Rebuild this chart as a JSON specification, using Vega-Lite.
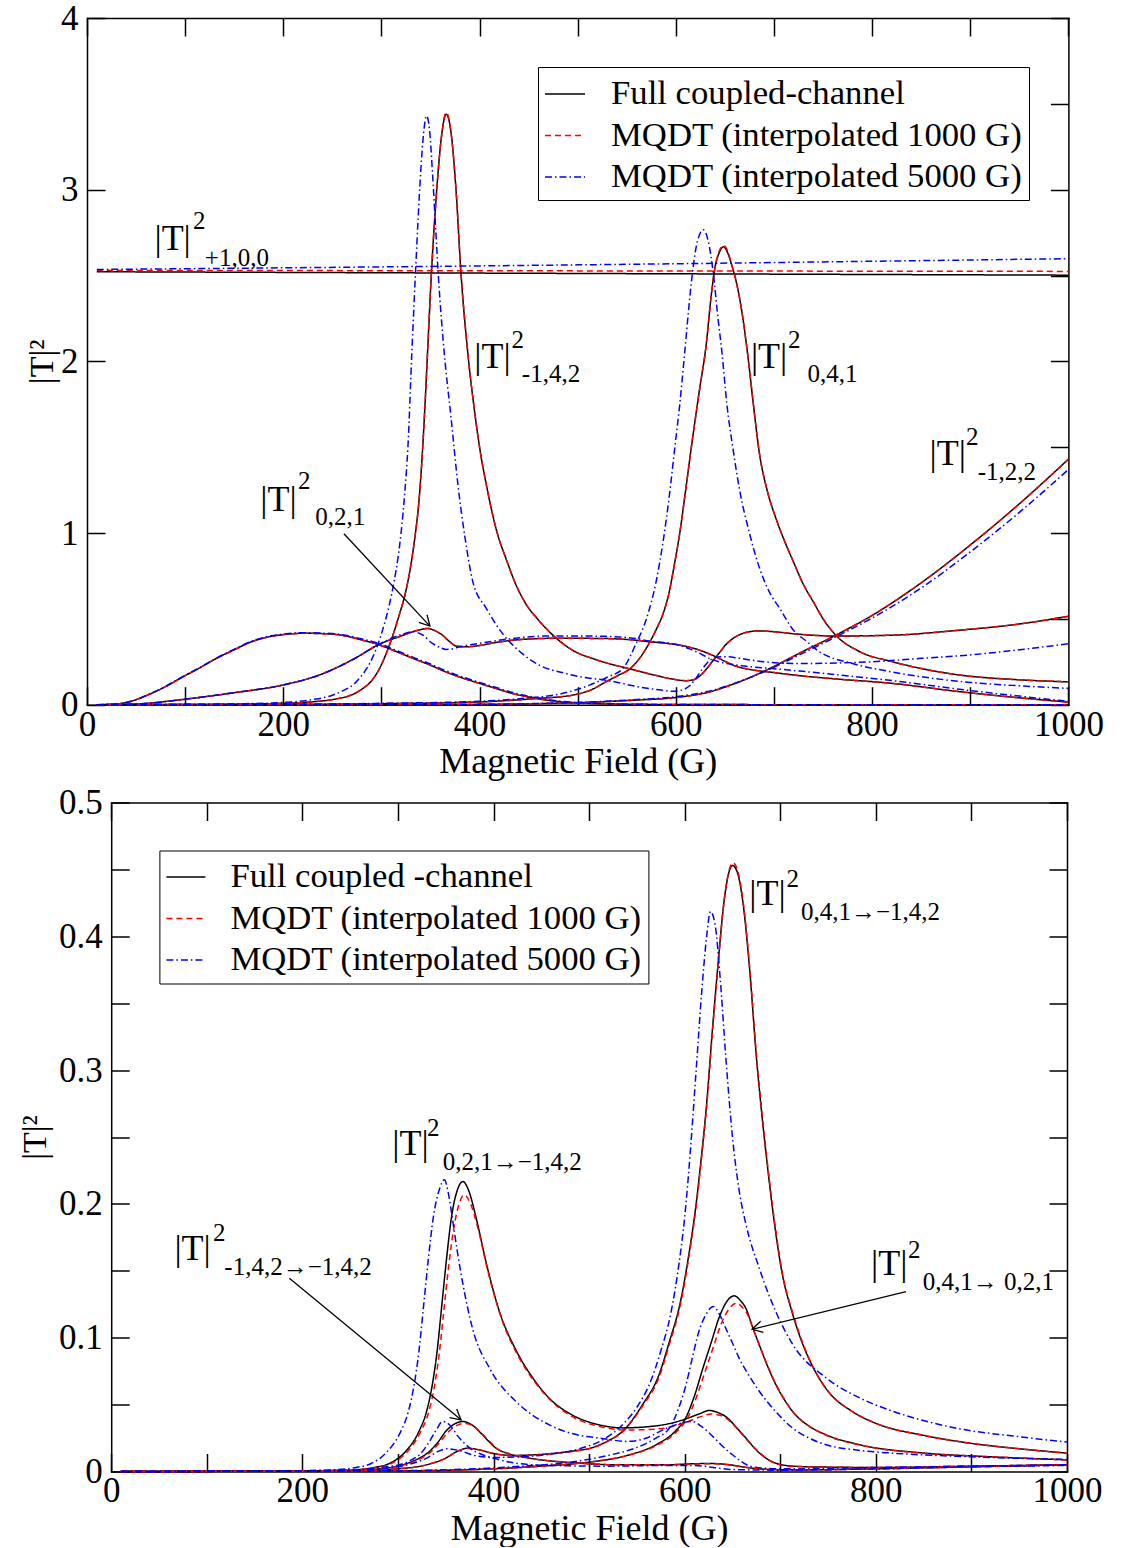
{
"$schema":"https://vega.github.io/schema/vega-lite/v6.json",
"background":"white",
"padding":{"left":18,"top":1,"right":0,"bottom":0},
"config":{"view":{"stroke":null},"font":"Liberation Serif",
"axis":{"labelFont":"Liberation Serif","titleFont":"Liberation Serif","labelColor":"black","titleColor":"black","titleFontWeight":"normal","domainColor":"black","domainWidth":1.5,"tickColor":"black","tickWidth":1.5,"tickSize":-18,"grid":false,"labelFlush":false,"labelOverlap":false,"labelFontSize":35,"titleFontSize":36,"domainCap":"square"}},
"datasets":{
"top":[
{"c":"t1","m":"F","G":10,"v":2.522},{"c":"t1","m":"F","G":500,"v":2.512},{"c":"t1","m":"F","G":1000,"v":2.502},
{"c":"t2","m":"F","G":10,"v":0},{"c":"t2","m":"F","G":100,"v":0.001},{"c":"t2","m":"F","G":150,"v":0.003},{"c":"t2","m":"F","G":200,"v":0.008},{"c":"t2","m":"F","G":230,"v":0.017},{"c":"t2","m":"F","G":255,"v":0.035},{"c":"t2","m":"F","G":270,"v":0.058},{"c":"t2","m":"F","G":280,"v":0.09},{"c":"t2","m":"F","G":290,"v":0.14},{"c":"t2","m":"F","G":298,"v":0.21},{"c":"t2","m":"F","G":305,"v":0.3},{"c":"t2","m":"F","G":312,"v":0.41},{"c":"t2","m":"F","G":318,"v":0.52},{"c":"t2","m":"F","G":324,"v":0.64},{"c":"t2","m":"F","G":329,"v":0.78},{"c":"t2","m":"F","G":334,"v":0.97},{"c":"t2","m":"F","G":338,"v":1.17},{"c":"t2","m":"F","G":341,"v":1.4},{"c":"t2","m":"F","G":344,"v":1.7},{"c":"t2","m":"F","G":347,"v":2.05},{"c":"t2","m":"F","G":351,"v":2.52},{"c":"t2","m":"F","G":356,"v":2.97},{"c":"t2","m":"F","G":361,"v":3.3},{"c":"t2","m":"F","G":366,"v":3.44},{"c":"t2","m":"F","G":371,"v":3.33},{"c":"t2","m":"F","G":376,"v":3.0},{"c":"t2","m":"F","G":381,"v":2.52},{"c":"t2","m":"F","G":388,"v":2.05},{"c":"t2","m":"F","G":394,"v":1.75},{"c":"t2","m":"F","G":400,"v":1.5},{"c":"t2","m":"F","G":408,"v":1.25},{"c":"t2","m":"F","G":418,"v":1.0},{"c":"t2","m":"F","G":427,"v":0.85},{"c":"t2","m":"F","G":437,"v":0.7},{"c":"t2","m":"F","G":448,"v":0.58},{"c":"t2","m":"F","G":459,"v":0.5},{"c":"t2","m":"F","G":472,"v":0.42},{"c":"t2","m":"F","G":494,"v":0.32},{"c":"t2","m":"F","G":520,"v":0.26},{"c":"t2","m":"F","G":552,"v":0.21},{"c":"t2","m":"F","G":580,"v":0.17},{"c":"t2","m":"F","G":596,"v":0.15},{"c":"t2","m":"F","G":610,"v":0.14},{"c":"t2","m":"F","G":618,"v":0.145},{"c":"t2","m":"F","G":624,"v":0.165},{"c":"t2","m":"F","G":630,"v":0.2},{"c":"t2","m":"F","G":637,"v":0.25},{"c":"t2","m":"F","G":644,"v":0.3},{"c":"t2","m":"F","G":651,"v":0.35},{"c":"t2","m":"F","G":658,"v":0.385},{"c":"t2","m":"F","G":665,"v":0.408},{"c":"t2","m":"F","G":675,"v":0.425},{"c":"t2","m":"F","G":685,"v":0.43},{"c":"t2","m":"F","G":700,"v":0.425},{"c":"t2","m":"F","G":726,"v":0.41},{"c":"t2","m":"F","G":763,"v":0.4},{"c":"t2","m":"F","G":821,"v":0.405},{"c":"t2","m":"F","G":889,"v":0.434},{"c":"t2","m":"F","G":950,"v":0.47},{"c":"t2","m":"F","G":1000,"v":0.515},
{"c":"t3","m":"F","G":10,"v":0},{"c":"t3","m":"F","G":200,"v":0.002},{"c":"t3","m":"F","G":300,"v":0.006},{"c":"t3","m":"F","G":400,"v":0.016},{"c":"t3","m":"F","G":430,"v":0.025},{"c":"t3","m":"F","G":461,"v":0.037},{"c":"t3","m":"F","G":495,"v":0.056},{"c":"t3","m":"F","G":515,"v":0.09},{"c":"t3","m":"F","G":529,"v":0.134},{"c":"t3","m":"F","G":541,"v":0.17},{"c":"t3","m":"F","G":553,"v":0.208},{"c":"t3","m":"F","G":563,"v":0.27},{"c":"t3","m":"F","G":573,"v":0.36},{"c":"t3","m":"F","G":581,"v":0.45},{"c":"t3","m":"F","G":587,"v":0.53},{"c":"t3","m":"F","G":593,"v":0.65},{"c":"t3","m":"F","G":598,"v":0.8},{"c":"t3","m":"F","G":604,"v":1.0},{"c":"t3","m":"F","G":610,"v":1.25},{"c":"t3","m":"F","G":617,"v":1.55},{"c":"t3","m":"F","G":624,"v":1.83},{"c":"t3","m":"F","G":631,"v":2.1},{"c":"t3","m":"F","G":636,"v":2.38},{"c":"t3","m":"F","G":640,"v":2.55},{"c":"t3","m":"F","G":644,"v":2.63},{"c":"t3","m":"F","G":648.5,"v":2.667},{"c":"t3","m":"F","G":653,"v":2.63},{"c":"t3","m":"F","G":657,"v":2.56},{"c":"t3","m":"F","G":660,"v":2.5},{"c":"t3","m":"F","G":667,"v":2.3},{"c":"t3","m":"F","G":673,"v":2.05},{"c":"t3","m":"F","G":679,"v":1.75},{"c":"t3","m":"F","G":685,"v":1.47},{"c":"t3","m":"F","G":693,"v":1.25},{"c":"t3","m":"F","G":702,"v":1.085},{"c":"t3","m":"F","G":711,"v":0.95},{"c":"t3","m":"F","G":720,"v":0.83},{"c":"t3","m":"F","G":730,"v":0.7},{"c":"t3","m":"F","G":740,"v":0.6},{"c":"t3","m":"F","G":750,"v":0.5},{"c":"t3","m":"F","G":763,"v":0.405},{"c":"t3","m":"F","G":787,"v":0.31},{"c":"t3","m":"F","G":821,"v":0.25},{"c":"t3","m":"F","G":855,"v":0.205},{"c":"t3","m":"F","G":889,"v":0.173},{"c":"t3","m":"F","G":950,"v":0.145},{"c":"t3","m":"F","G":1000,"v":0.133},
{"c":"t4","m":"F","G":10,"v":0},{"c":"t4","m":"F","G":300,"v":0},{"c":"t4","m":"F","G":400,"v":0.002},{"c":"t4","m":"F","G":450,"v":0.005},{"c":"t4","m":"F","G":500,"v":0.012},{"c":"t4","m":"F","G":529,"v":0.018},{"c":"t4","m":"F","G":560,"v":0.027},{"c":"t4","m":"F","G":597,"v":0.04},{"c":"t4","m":"F","G":631,"v":0.07},{"c":"t4","m":"F","G":665,"v":0.134},{"c":"t4","m":"F","G":699,"v":0.22},{"c":"t4","m":"F","G":726,"v":0.3},{"c":"t4","m":"F","G":763,"v":0.405},{"c":"t4","m":"F","G":800,"v":0.52},{"c":"t4","m":"F","G":850,"v":0.71},{"c":"t4","m":"F","G":900,"v":0.93},{"c":"t4","m":"F","G":950,"v":1.17},{"c":"t4","m":"F","G":1000,"v":1.43},
{"c":"t5","m":"F","G":10,"v":0},{"c":"t5","m":"F","G":27,"v":0.003},{"c":"t5","m":"F","G":45,"v":0.02},{"c":"t5","m":"F","G":62,"v":0.057},{"c":"t5","m":"F","G":80,"v":0.105},{"c":"t5","m":"F","G":97,"v":0.16},{"c":"t5","m":"F","G":115,"v":0.215},{"c":"t5","m":"F","G":132,"v":0.27},{"c":"t5","m":"F","G":150,"v":0.32},{"c":"t5","m":"F","G":167,"v":0.365},{"c":"t5","m":"F","G":185,"v":0.395},{"c":"t5","m":"F","G":203,"v":0.41},{"c":"t5","m":"F","G":220,"v":0.416},{"c":"t5","m":"F","G":240,"v":0.414},{"c":"t5","m":"F","G":259,"v":0.405},{"c":"t5","m":"F","G":278,"v":0.38},{"c":"t5","m":"F","G":297,"v":0.35},{"c":"t5","m":"F","G":315,"v":0.31},{"c":"t5","m":"F","G":332,"v":0.27},{"c":"t5","m":"F","G":350,"v":0.23},{"c":"t5","m":"F","G":366,"v":0.19},{"c":"t5","m":"F","G":383,"v":0.155},{"c":"t5","m":"F","G":400,"v":0.124},{"c":"t5","m":"F","G":417,"v":0.094},{"c":"t5","m":"F","G":433,"v":0.066},{"c":"t5","m":"F","G":450,"v":0.045},{"c":"t5","m":"F","G":468,"v":0.027},{"c":"t5","m":"F","G":485,"v":0.016},{"c":"t5","m":"F","G":502,"v":0.01},{"c":"t5","m":"F","G":530,"v":0.005},{"c":"t5","m":"F","G":570,"v":0.002},{"c":"t5","m":"F","G":650,"v":0.0005},{"c":"t5","m":"F","G":1000,"v":0},
{"c":"t6","m":"F","G":10,"v":0},{"c":"t6","m":"F","G":50,"v":0.004},{"c":"t6","m":"F","G":97,"v":0.03},{"c":"t6","m":"F","G":150,"v":0.07},{"c":"t6","m":"F","G":200,"v":0.115},{"c":"t6","m":"F","G":240,"v":0.18},{"c":"t6","m":"F","G":273,"v":0.27},{"c":"t6","m":"F","G":297,"v":0.35},{"c":"t6","m":"F","G":320,"v":0.4},{"c":"t6","m":"F","G":335,"v":0.43},{"c":"t6","m":"F","G":347,"v":0.444},{"c":"t6","m":"F","G":355,"v":0.43},{"c":"t6","m":"F","G":362,"v":0.406},{"c":"t6","m":"F","G":370,"v":0.365},{"c":"t6","m":"F","G":376,"v":0.342},{"c":"t6","m":"F","G":386,"v":0.337},{"c":"t6","m":"F","G":400,"v":0.345},{"c":"t6","m":"F","G":417,"v":0.363},{"c":"t6","m":"F","G":451,"v":0.383},{"c":"t6","m":"F","G":480,"v":0.387},{"c":"t6","m":"F","G":520,"v":0.386},{"c":"t6","m":"F","G":550,"v":0.38},{"c":"t6","m":"F","G":573,"v":0.367},{"c":"t6","m":"F","G":603,"v":0.348},{"c":"t6","m":"F","G":614,"v":0.335},{"c":"t6","m":"F","G":624,"v":0.318},{"c":"t6","m":"F","G":637,"v":0.289},{"c":"t6","m":"F","G":651,"v":0.25},{"c":"t6","m":"F","G":661,"v":0.225},{"c":"t6","m":"F","G":671,"v":0.21},{"c":"t6","m":"F","G":685,"v":0.197},{"c":"t6","m":"F","G":699,"v":0.188},{"c":"t6","m":"F","G":726,"v":0.169},{"c":"t6","m":"F","G":763,"v":0.15},{"c":"t6","m":"F","G":821,"v":0.124},{"c":"t6","m":"F","G":889,"v":0.076},{"c":"t6","m":"F","G":950,"v":0.04},{"c":"t6","m":"F","G":1000,"v":0.015},
{"c":"t1","m":"A","G":10,"v":2.53},{"c":"t1","m":"A","G":500,"v":2.527},{"c":"t1","m":"A","G":1000,"v":2.524},
{"c":"t2","m":"A","G":10,"v":0},{"c":"t2","m":"A","G":100,"v":0.001},{"c":"t2","m":"A","G":150,"v":0.003},{"c":"t2","m":"A","G":200,"v":0.008},{"c":"t2","m":"A","G":230,"v":0.017},{"c":"t2","m":"A","G":255,"v":0.035},{"c":"t2","m":"A","G":270,"v":0.058},{"c":"t2","m":"A","G":280,"v":0.09},{"c":"t2","m":"A","G":290,"v":0.14},{"c":"t2","m":"A","G":298,"v":0.21},{"c":"t2","m":"A","G":305,"v":0.3},{"c":"t2","m":"A","G":312,"v":0.41},{"c":"t2","m":"A","G":318,"v":0.52},{"c":"t2","m":"A","G":324,"v":0.64},{"c":"t2","m":"A","G":329,"v":0.78},{"c":"t2","m":"A","G":334,"v":0.97},{"c":"t2","m":"A","G":338,"v":1.17},{"c":"t2","m":"A","G":341,"v":1.4},{"c":"t2","m":"A","G":344,"v":1.7},{"c":"t2","m":"A","G":347,"v":2.05},{"c":"t2","m":"A","G":351,"v":2.52},{"c":"t2","m":"A","G":356,"v":2.97},{"c":"t2","m":"A","G":361,"v":3.3},{"c":"t2","m":"A","G":366,"v":3.45},{"c":"t2","m":"A","G":371,"v":3.33},{"c":"t2","m":"A","G":376,"v":3.0},{"c":"t2","m":"A","G":381,"v":2.52},{"c":"t2","m":"A","G":388,"v":2.05},{"c":"t2","m":"A","G":394,"v":1.75},{"c":"t2","m":"A","G":400,"v":1.5},{"c":"t2","m":"A","G":408,"v":1.25},{"c":"t2","m":"A","G":418,"v":1.0},{"c":"t2","m":"A","G":427,"v":0.85},{"c":"t2","m":"A","G":437,"v":0.7},{"c":"t2","m":"A","G":448,"v":0.58},{"c":"t2","m":"A","G":459,"v":0.5},{"c":"t2","m":"A","G":472,"v":0.42},{"c":"t2","m":"A","G":494,"v":0.32},{"c":"t2","m":"A","G":520,"v":0.26},{"c":"t2","m":"A","G":552,"v":0.21},{"c":"t2","m":"A","G":580,"v":0.17},{"c":"t2","m":"A","G":596,"v":0.15},{"c":"t2","m":"A","G":610,"v":0.14},{"c":"t2","m":"A","G":618,"v":0.145},{"c":"t2","m":"A","G":624,"v":0.165},{"c":"t2","m":"A","G":630,"v":0.2},{"c":"t2","m":"A","G":637,"v":0.25},{"c":"t2","m":"A","G":644,"v":0.3},{"c":"t2","m":"A","G":651,"v":0.35},{"c":"t2","m":"A","G":658,"v":0.385},{"c":"t2","m":"A","G":665,"v":0.408},{"c":"t2","m":"A","G":675,"v":0.425},{"c":"t2","m":"A","G":685,"v":0.43},{"c":"t2","m":"A","G":700,"v":0.425},{"c":"t2","m":"A","G":726,"v":0.41},{"c":"t2","m":"A","G":763,"v":0.4},{"c":"t2","m":"A","G":821,"v":0.405},{"c":"t2","m":"A","G":889,"v":0.434},{"c":"t2","m":"A","G":950,"v":0.47},{"c":"t2","m":"A","G":1000,"v":0.515},
{"c":"t3","m":"A","G":10,"v":0},{"c":"t3","m":"A","G":200,"v":0.002},{"c":"t3","m":"A","G":300,"v":0.006},{"c":"t3","m":"A","G":400,"v":0.016},{"c":"t3","m":"A","G":430,"v":0.025},{"c":"t3","m":"A","G":461,"v":0.037},{"c":"t3","m":"A","G":495,"v":0.056},{"c":"t3","m":"A","G":515,"v":0.09},{"c":"t3","m":"A","G":529,"v":0.134},{"c":"t3","m":"A","G":541,"v":0.17},{"c":"t3","m":"A","G":553,"v":0.208},{"c":"t3","m":"A","G":563,"v":0.27},{"c":"t3","m":"A","G":573,"v":0.36},{"c":"t3","m":"A","G":581,"v":0.45},{"c":"t3","m":"A","G":587,"v":0.53},{"c":"t3","m":"A","G":593,"v":0.65},{"c":"t3","m":"A","G":598,"v":0.8},{"c":"t3","m":"A","G":604,"v":1.0},{"c":"t3","m":"A","G":610,"v":1.25},{"c":"t3","m":"A","G":617,"v":1.55},{"c":"t3","m":"A","G":624,"v":1.83},{"c":"t3","m":"A","G":631,"v":2.1},{"c":"t3","m":"A","G":636,"v":2.38},{"c":"t3","m":"A","G":640,"v":2.55},{"c":"t3","m":"A","G":644,"v":2.64},{"c":"t3","m":"A","G":648.5,"v":2.675},{"c":"t3","m":"A","G":653,"v":2.64},{"c":"t3","m":"A","G":657,"v":2.56},{"c":"t3","m":"A","G":660,"v":2.5},{"c":"t3","m":"A","G":667,"v":2.3},{"c":"t3","m":"A","G":673,"v":2.05},{"c":"t3","m":"A","G":679,"v":1.75},{"c":"t3","m":"A","G":685,"v":1.47},{"c":"t3","m":"A","G":693,"v":1.25},{"c":"t3","m":"A","G":702,"v":1.085},{"c":"t3","m":"A","G":711,"v":0.95},{"c":"t3","m":"A","G":720,"v":0.83},{"c":"t3","m":"A","G":730,"v":0.7},{"c":"t3","m":"A","G":740,"v":0.6},{"c":"t3","m":"A","G":750,"v":0.5},{"c":"t3","m":"A","G":763,"v":0.405},{"c":"t3","m":"A","G":787,"v":0.31},{"c":"t3","m":"A","G":821,"v":0.25},{"c":"t3","m":"A","G":855,"v":0.205},{"c":"t3","m":"A","G":889,"v":0.173},{"c":"t3","m":"A","G":950,"v":0.145},{"c":"t3","m":"A","G":1000,"v":0.133},
{"c":"t4","m":"A","G":10,"v":0},{"c":"t4","m":"A","G":300,"v":0},{"c":"t4","m":"A","G":400,"v":0.002},{"c":"t4","m":"A","G":450,"v":0.005},{"c":"t4","m":"A","G":500,"v":0.012},{"c":"t4","m":"A","G":529,"v":0.018},{"c":"t4","m":"A","G":560,"v":0.027},{"c":"t4","m":"A","G":597,"v":0.04},{"c":"t4","m":"A","G":631,"v":0.07},{"c":"t4","m":"A","G":665,"v":0.134},{"c":"t4","m":"A","G":699,"v":0.22},{"c":"t4","m":"A","G":726,"v":0.3},{"c":"t4","m":"A","G":763,"v":0.405},{"c":"t4","m":"A","G":800,"v":0.52},{"c":"t4","m":"A","G":850,"v":0.71},{"c":"t4","m":"A","G":900,"v":0.93},{"c":"t4","m":"A","G":950,"v":1.17},{"c":"t4","m":"A","G":1000,"v":1.43},
{"c":"t5","m":"A","G":10,"v":0},{"c":"t5","m":"A","G":27,"v":0.003},{"c":"t5","m":"A","G":45,"v":0.02},{"c":"t5","m":"A","G":62,"v":0.057},{"c":"t5","m":"A","G":80,"v":0.105},{"c":"t5","m":"A","G":97,"v":0.16},{"c":"t5","m":"A","G":115,"v":0.215},{"c":"t5","m":"A","G":132,"v":0.27},{"c":"t5","m":"A","G":150,"v":0.32},{"c":"t5","m":"A","G":167,"v":0.365},{"c":"t5","m":"A","G":185,"v":0.395},{"c":"t5","m":"A","G":203,"v":0.41},{"c":"t5","m":"A","G":220,"v":0.416},{"c":"t5","m":"A","G":240,"v":0.414},{"c":"t5","m":"A","G":259,"v":0.405},{"c":"t5","m":"A","G":278,"v":0.38},{"c":"t5","m":"A","G":297,"v":0.35},{"c":"t5","m":"A","G":315,"v":0.31},{"c":"t5","m":"A","G":332,"v":0.27},{"c":"t5","m":"A","G":350,"v":0.23},{"c":"t5","m":"A","G":366,"v":0.19},{"c":"t5","m":"A","G":383,"v":0.155},{"c":"t5","m":"A","G":400,"v":0.124},{"c":"t5","m":"A","G":417,"v":0.094},{"c":"t5","m":"A","G":433,"v":0.066},{"c":"t5","m":"A","G":450,"v":0.045},{"c":"t5","m":"A","G":468,"v":0.027},{"c":"t5","m":"A","G":485,"v":0.016},{"c":"t5","m":"A","G":502,"v":0.01},{"c":"t5","m":"A","G":530,"v":0.005},{"c":"t5","m":"A","G":570,"v":0.002},{"c":"t5","m":"A","G":650,"v":0.0005},{"c":"t5","m":"A","G":1000,"v":0},
{"c":"t6","m":"A","G":10,"v":0},{"c":"t6","m":"A","G":50,"v":0.004},{"c":"t6","m":"A","G":97,"v":0.03},{"c":"t6","m":"A","G":150,"v":0.07},{"c":"t6","m":"A","G":200,"v":0.115},{"c":"t6","m":"A","G":240,"v":0.18},{"c":"t6","m":"A","G":273,"v":0.27},{"c":"t6","m":"A","G":297,"v":0.35},{"c":"t6","m":"A","G":320,"v":0.4},{"c":"t6","m":"A","G":335,"v":0.43},{"c":"t6","m":"A","G":347,"v":0.444},{"c":"t6","m":"A","G":355,"v":0.43},{"c":"t6","m":"A","G":362,"v":0.406},{"c":"t6","m":"A","G":370,"v":0.365},{"c":"t6","m":"A","G":376,"v":0.342},{"c":"t6","m":"A","G":386,"v":0.337},{"c":"t6","m":"A","G":400,"v":0.345},{"c":"t6","m":"A","G":417,"v":0.363},{"c":"t6","m":"A","G":451,"v":0.383},{"c":"t6","m":"A","G":480,"v":0.387},{"c":"t6","m":"A","G":520,"v":0.386},{"c":"t6","m":"A","G":550,"v":0.38},{"c":"t6","m":"A","G":573,"v":0.367},{"c":"t6","m":"A","G":603,"v":0.348},{"c":"t6","m":"A","G":614,"v":0.335},{"c":"t6","m":"A","G":624,"v":0.318},{"c":"t6","m":"A","G":637,"v":0.289},{"c":"t6","m":"A","G":651,"v":0.25},{"c":"t6","m":"A","G":661,"v":0.225},{"c":"t6","m":"A","G":671,"v":0.21},{"c":"t6","m":"A","G":685,"v":0.197},{"c":"t6","m":"A","G":699,"v":0.188},{"c":"t6","m":"A","G":726,"v":0.169},{"c":"t6","m":"A","G":763,"v":0.15},{"c":"t6","m":"A","G":821,"v":0.124},{"c":"t6","m":"A","G":889,"v":0.076},{"c":"t6","m":"A","G":950,"v":0.04},{"c":"t6","m":"A","G":1000,"v":0.015},
{"c":"t1","m":"B","G":10,"v":2.535},{"c":"t1","m":"B","G":500,"v":2.562},{"c":"t1","m":"B","G":1000,"v":2.598},
{"c":"t2","m":"B","G":10,"v":0},{"c":"t2","m":"B","G":100,"v":0.002},{"c":"t2","m":"B","G":150,"v":0.005},{"c":"t2","m":"B","G":200,"v":0.013},{"c":"t2","m":"B","G":230,"v":0.03},{"c":"t2","m":"B","G":250,"v":0.055},{"c":"t2","m":"B","G":262,"v":0.085},{"c":"t2","m":"B","G":272,"v":0.12},{"c":"t2","m":"B","G":280,"v":0.17},{"c":"t2","m":"B","G":288,"v":0.24},{"c":"t2","m":"B","G":295,"v":0.33},{"c":"t2","m":"B","G":303,"v":0.47},{"c":"t2","m":"B","G":308,"v":0.58},{"c":"t2","m":"B","G":313,"v":0.72},{"c":"t2","m":"B","G":317,"v":0.86},{"c":"t2","m":"B","G":320,"v":1.0},{"c":"t2","m":"B","G":324,"v":1.25},{"c":"t2","m":"B","G":327,"v":1.5},{"c":"t2","m":"B","G":331,"v":2.05},{"c":"t2","m":"B","G":335,"v":2.55},{"c":"t2","m":"B","G":340,"v":3.1},{"c":"t2","m":"B","G":343,"v":3.33},{"c":"t2","m":"B","G":346,"v":3.43},{"c":"t2","m":"B","G":349,"v":3.35},{"c":"t2","m":"B","G":352,"v":3.1},{"c":"t2","m":"B","G":355,"v":2.8},{"c":"t2","m":"B","G":358,"v":2.5},{"c":"t2","m":"B","G":364,"v":2.05},{"c":"t2","m":"B","G":371,"v":1.67},{"c":"t2","m":"B","G":378,"v":1.28},{"c":"t2","m":"B","G":385,"v":0.98},{"c":"t2","m":"B","G":393,"v":0.72},{"c":"t2","m":"B","G":407,"v":0.56},{"c":"t2","m":"B","G":424,"v":0.41},{"c":"t2","m":"B","G":441,"v":0.31},{"c":"t2","m":"B","G":461,"v":0.23},{"c":"t2","m":"B","G":488,"v":0.182},{"c":"t2","m":"B","G":502,"v":0.163},{"c":"t2","m":"B","G":529,"v":0.143},{"c":"t2","m":"B","G":563,"v":0.103},{"c":"t2","m":"B","G":585,"v":0.085},{"c":"t2","m":"B","G":597,"v":0.078},{"c":"t2","m":"B","G":606,"v":0.085},{"c":"t2","m":"B","G":614,"v":0.11},{"c":"t2","m":"B","G":620,"v":0.15},{"c":"t2","m":"B","G":626,"v":0.2},{"c":"t2","m":"B","G":634,"v":0.255},{"c":"t2","m":"B","G":642,"v":0.278},{"c":"t2","m":"B","G":652,"v":0.28},{"c":"t2","m":"B","G":665,"v":0.27},{"c":"t2","m":"B","G":690,"v":0.25},{"c":"t2","m":"B","G":726,"v":0.24},{"c":"t2","m":"B","G":800,"v":0.25},{"c":"t2","m":"B","G":850,"v":0.27},{"c":"t2","m":"B","G":900,"v":0.29},{"c":"t2","m":"B","G":950,"v":0.32},{"c":"t2","m":"B","G":1000,"v":0.355},
{"c":"t3","m":"B","G":10,"v":0},{"c":"t3","m":"B","G":200,"v":0.003},{"c":"t3","m":"B","G":300,"v":0.008},{"c":"t3","m":"B","G":400,"v":0.02},{"c":"t3","m":"B","G":450,"v":0.04},{"c":"t3","m":"B","G":480,"v":0.06},{"c":"t3","m":"B","G":512,"v":0.114},{"c":"t3","m":"B","G":530,"v":0.16},{"c":"t3","m":"B","G":546,"v":0.21},{"c":"t3","m":"B","G":559,"v":0.35},{"c":"t3","m":"B","G":570,"v":0.5},{"c":"t3","m":"B","G":580,"v":0.72},{"c":"t3","m":"B","G":587,"v":0.95},{"c":"t3","m":"B","G":593,"v":1.2},{"c":"t3","m":"B","G":599,"v":1.5},{"c":"t3","m":"B","G":604,"v":1.75},{"c":"t3","m":"B","G":609,"v":2.05},{"c":"t3","m":"B","G":613,"v":2.3},{"c":"t3","m":"B","G":617,"v":2.52},{"c":"t3","m":"B","G":622,"v":2.7},{"c":"t3","m":"B","G":628,"v":2.766},{"c":"t3","m":"B","G":633,"v":2.7},{"c":"t3","m":"B","G":638,"v":2.52},{"c":"t3","m":"B","G":643,"v":2.25},{"c":"t3","m":"B","G":647,"v":2.05},{"c":"t3","m":"B","G":652,"v":1.75},{"c":"t3","m":"B","G":658,"v":1.5},{"c":"t3","m":"B","G":665,"v":1.25},{"c":"t3","m":"B","G":675,"v":1.0},{"c":"t3","m":"B","G":685,"v":0.8},{"c":"t3","m":"B","G":695,"v":0.66},{"c":"t3","m":"B","G":706,"v":0.56},{"c":"t3","m":"B","G":719,"v":0.44},{"c":"t3","m":"B","G":733,"v":0.37},{"c":"t3","m":"B","G":746,"v":0.31},{"c":"t3","m":"B","G":780,"v":0.24},{"c":"t3","m":"B","G":821,"v":0.19},{"c":"t3","m":"B","G":860,"v":0.155},{"c":"t3","m":"B","G":900,"v":0.13},{"c":"t3","m":"B","G":950,"v":0.11},{"c":"t3","m":"B","G":1000,"v":0.095},
{"c":"t4","m":"B","G":10,"v":0},{"c":"t4","m":"B","G":300,"v":0},{"c":"t4","m":"B","G":400,"v":0.002},{"c":"t4","m":"B","G":450,"v":0.006},{"c":"t4","m":"B","G":500,"v":0.013},{"c":"t4","m":"B","G":529,"v":0.02},{"c":"t4","m":"B","G":560,"v":0.03},{"c":"t4","m":"B","G":597,"v":0.045},{"c":"t4","m":"B","G":631,"v":0.075},{"c":"t4","m":"B","G":665,"v":0.135},{"c":"t4","m":"B","G":699,"v":0.215},{"c":"t4","m":"B","G":726,"v":0.29},{"c":"t4","m":"B","G":763,"v":0.395},{"c":"t4","m":"B","G":800,"v":0.505},{"c":"t4","m":"B","G":850,"v":0.68},{"c":"t4","m":"B","G":900,"v":0.89},{"c":"t4","m":"B","G":950,"v":1.12},{"c":"t4","m":"B","G":1000,"v":1.37},
{"c":"t5","m":"B","G":10,"v":0},{"c":"t5","m":"B","G":27,"v":0.003},{"c":"t5","m":"B","G":45,"v":0.02},{"c":"t5","m":"B","G":62,"v":0.058},{"c":"t5","m":"B","G":80,"v":0.107},{"c":"t5","m":"B","G":97,"v":0.162},{"c":"t5","m":"B","G":115,"v":0.217},{"c":"t5","m":"B","G":132,"v":0.272},{"c":"t5","m":"B","G":150,"v":0.323},{"c":"t5","m":"B","G":167,"v":0.368},{"c":"t5","m":"B","G":185,"v":0.398},{"c":"t5","m":"B","G":203,"v":0.413},{"c":"t5","m":"B","G":220,"v":0.419},{"c":"t5","m":"B","G":240,"v":0.417},{"c":"t5","m":"B","G":259,"v":0.409},{"c":"t5","m":"B","G":278,"v":0.386},{"c":"t5","m":"B","G":297,"v":0.357},{"c":"t5","m":"B","G":315,"v":0.317},{"c":"t5","m":"B","G":332,"v":0.277},{"c":"t5","m":"B","G":350,"v":0.237},{"c":"t5","m":"B","G":366,"v":0.197},{"c":"t5","m":"B","G":383,"v":0.161},{"c":"t5","m":"B","G":400,"v":0.13},{"c":"t5","m":"B","G":417,"v":0.1},{"c":"t5","m":"B","G":433,"v":0.072},{"c":"t5","m":"B","G":450,"v":0.05},{"c":"t5","m":"B","G":468,"v":0.031},{"c":"t5","m":"B","G":485,"v":0.019},{"c":"t5","m":"B","G":502,"v":0.012},{"c":"t5","m":"B","G":530,"v":0.006},{"c":"t5","m":"B","G":570,"v":0.002},{"c":"t5","m":"B","G":650,"v":0.0005},{"c":"t5","m":"B","G":1000,"v":0},
{"c":"t6","m":"B","G":10,"v":0},{"c":"t6","m":"B","G":50,"v":0.004},{"c":"t6","m":"B","G":97,"v":0.03},{"c":"t6","m":"B","G":150,"v":0.07},{"c":"t6","m":"B","G":200,"v":0.115},{"c":"t6","m":"B","G":240,"v":0.18},{"c":"t6","m":"B","G":273,"v":0.27},{"c":"t6","m":"B","G":297,"v":0.35},{"c":"t6","m":"B","G":319,"v":0.406},{"c":"t6","m":"B","G":332,"v":0.425},{"c":"t6","m":"B","G":342,"v":0.406},{"c":"t6","m":"B","G":352,"v":0.357},{"c":"t6","m":"B","G":360,"v":0.332},{"c":"t6","m":"B","G":366,"v":0.322},{"c":"t6","m":"B","G":372,"v":0.325},{"c":"t6","m":"B","G":379,"v":0.336},{"c":"t6","m":"B","G":400,"v":0.357},{"c":"t6","m":"B","G":434,"v":0.386},{"c":"t6","m":"B","G":468,"v":0.4},{"c":"t6","m":"B","G":502,"v":0.4},{"c":"t6","m":"B","G":529,"v":0.398},{"c":"t6","m":"B","G":560,"v":0.385},{"c":"t6","m":"B","G":573,"v":0.371},{"c":"t6","m":"B","G":590,"v":0.36},{"c":"t6","m":"B","G":603,"v":0.348},{"c":"t6","m":"B","G":614,"v":0.325},{"c":"t6","m":"B","G":624,"v":0.3},{"c":"t6","m":"B","G":634,"v":0.27},{"c":"t6","m":"B","G":644,"v":0.25},{"c":"t6","m":"B","G":657,"v":0.235},{"c":"t6","m":"B","G":670,"v":0.225},{"c":"t6","m":"B","G":700,"v":0.21},{"c":"t6","m":"B","G":726,"v":0.196},{"c":"t6","m":"B","G":763,"v":0.175},{"c":"t6","m":"B","G":821,"v":0.14},{"c":"t6","m":"B","G":889,"v":0.09},{"c":"t6","m":"B","G":950,"v":0.05},{"c":"t6","m":"B","G":1000,"v":0.02}
],
"bot":[
{"c":"p1","m":"F","G":10,"v":0},{"c":"p1","m":"F","G":200,"v":0.0003},{"c":"p1","m":"F","G":250,"v":0.001},{"c":"p1","m":"F","G":275,"v":0.003},{"c":"p1","m":"F","G":291,"v":0.006},{"c":"p1","m":"F","G":308,"v":0.015},{"c":"p1","m":"F","G":322,"v":0.03},{"c":"p1","m":"F","G":330,"v":0.045},{"c":"p1","m":"F","G":336,"v":0.065},{"c":"p1","m":"F","G":341,"v":0.09},{"c":"p1","m":"F","G":346,"v":0.125},{"c":"p1","m":"F","G":351,"v":0.16},{"c":"p1","m":"F","G":356,"v":0.19},{"c":"p1","m":"F","G":362,"v":0.21},{"c":"p1","m":"F","G":368,"v":0.2167},{"c":"p1","m":"F","G":374,"v":0.21},{"c":"p1","m":"F","G":382,"v":0.189},{"c":"p1","m":"F","G":392,"v":0.157},{"c":"p1","m":"F","G":406,"v":0.12},{"c":"p1","m":"F","G":424,"v":0.09},{"c":"p1","m":"F","G":441,"v":0.07},{"c":"p1","m":"F","G":458,"v":0.055},{"c":"p1","m":"F","G":483,"v":0.042},{"c":"p1","m":"F","G":510,"v":0.035},{"c":"p1","m":"F","G":535,"v":0.0326},{"c":"p1","m":"F","G":573,"v":0.0344},{"c":"p1","m":"F","G":600,"v":0.039},{"c":"p1","m":"F","G":615,"v":0.043},{"c":"p1","m":"F","G":626,"v":0.0456},{"c":"p1","m":"F","G":635,"v":0.044},{"c":"p1","m":"F","G":643,"v":0.041},{"c":"p1","m":"F","G":654,"v":0.033},{"c":"p1","m":"F","G":664,"v":0.025},{"c":"p1","m":"F","G":675,"v":0.016},{"c":"p1","m":"F","G":685,"v":0.01},{"c":"p1","m":"F","G":706,"v":0.0045},{"c":"p1","m":"F","G":730,"v":0.0035},{"c":"p1","m":"F","G":800,"v":0.003},{"c":"p1","m":"F","G":900,"v":0.004},{"c":"p1","m":"F","G":1000,"v":0.005},
{"c":"p2","m":"F","G":10,"v":0},{"c":"p2","m":"F","G":250,"v":0.0005},{"c":"p2","m":"F","G":300,"v":0.002},{"c":"p2","m":"F","G":330,"v":0.005},{"c":"p2","m":"F","G":350,"v":0.01},{"c":"p2","m":"F","G":362,"v":0.015},{"c":"p2","m":"F","G":373,"v":0.0174},{"c":"p2","m":"F","G":385,"v":0.0162},{"c":"p2","m":"F","G":400,"v":0.0135},{"c":"p2","m":"F","G":420,"v":0.012},{"c":"p2","m":"F","G":450,"v":0.0128},{"c":"p2","m":"F","G":480,"v":0.015},{"c":"p2","m":"F","G":504,"v":0.018},{"c":"p2","m":"F","G":520,"v":0.023},{"c":"p2","m":"F","G":535,"v":0.03},{"c":"p2","m":"F","G":556,"v":0.05},{"c":"p2","m":"F","G":573,"v":0.072},{"c":"p2","m":"F","G":584,"v":0.097},{"c":"p2","m":"F","G":595,"v":0.125},{"c":"p2","m":"F","G":605,"v":0.165},{"c":"p2","m":"F","G":612,"v":0.2},{"c":"p2","m":"F","G":617,"v":0.232},{"c":"p2","m":"F","G":623,"v":0.275},{"c":"p2","m":"F","G":629,"v":0.33},{"c":"p2","m":"F","G":635,"v":0.38},{"c":"p2","m":"F","G":641,"v":0.425},{"c":"p2","m":"F","G":646,"v":0.447},{"c":"p2","m":"F","G":650,"v":0.453},{"c":"p2","m":"F","G":655,"v":0.448},{"c":"p2","m":"F","G":661,"v":0.425},{"c":"p2","m":"F","G":668,"v":0.375},{"c":"p2","m":"F","G":675,"v":0.31},{"c":"p2","m":"F","G":681,"v":0.265},{"c":"p2","m":"F","G":686,"v":0.232},{"c":"p2","m":"F","G":694,"v":0.185},{"c":"p2","m":"F","G":702,"v":0.148},{"c":"p2","m":"F","G":712,"v":0.12},{"c":"p2","m":"F","G":722,"v":0.098},{"c":"p2","m":"F","G":735,"v":0.077},{"c":"p2","m":"F","G":750,"v":0.06},{"c":"p2","m":"F","G":775,"v":0.045},{"c":"p2","m":"F","G":800,"v":0.036},{"c":"p2","m":"F","G":850,"v":0.027},{"c":"p2","m":"F","G":900,"v":0.021},{"c":"p2","m":"F","G":950,"v":0.017},{"c":"p2","m":"F","G":1000,"v":0.0137},
{"c":"p3","m":"F","G":10,"v":0},{"c":"p3","m":"F","G":300,"v":0.0005},{"c":"p3","m":"F","G":400,"v":0.002},{"c":"p3","m":"F","G":450,"v":0.004},{"c":"p3","m":"F","G":500,"v":0.007},{"c":"p3","m":"F","G":540,"v":0.012},{"c":"p3","m":"F","G":570,"v":0.02},{"c":"p3","m":"F","G":590,"v":0.03},{"c":"p3","m":"F","G":601,"v":0.04},{"c":"p3","m":"F","G":610,"v":0.056},{"c":"p3","m":"F","G":619,"v":0.077},{"c":"p3","m":"F","G":628,"v":0.097},{"c":"p3","m":"F","G":636,"v":0.115},{"c":"p3","m":"F","G":644,"v":0.127},{"c":"p3","m":"F","G":652,"v":0.1313},{"c":"p3","m":"F","G":658,"v":0.128},{"c":"p3","m":"F","G":664,"v":0.122},{"c":"p3","m":"F","G":671,"v":0.108},{"c":"p3","m":"F","G":678,"v":0.0947},{"c":"p3","m":"F","G":686,"v":0.08},{"c":"p3","m":"F","G":695.5,"v":0.0648},{"c":"p3","m":"F","G":704,"v":0.054},{"c":"p3","m":"F","G":713,"v":0.0448},{"c":"p3","m":"F","G":730,"v":0.034},{"c":"p3","m":"F","G":748,"v":0.0274},{"c":"p3","m":"F","G":783,"v":0.02},{"c":"p3","m":"F","G":852,"v":0.0137},{"c":"p3","m":"F","G":920,"v":0.011},{"c":"p3","m":"F","G":1000,"v":0.0087},
{"c":"p4","m":"F","G":10,"v":0},{"c":"p4","m":"F","G":250,"v":0.0008},{"c":"p4","m":"F","G":280,"v":0.002},{"c":"p4","m":"F","G":298,"v":0.0037},{"c":"p4","m":"F","G":315,"v":0.0075},{"c":"p4","m":"F","G":325,"v":0.011},{"c":"p4","m":"F","G":333,"v":0.015},{"c":"p4","m":"F","G":342,"v":0.022},{"c":"p4","m":"F","G":350,"v":0.03},{"c":"p4","m":"F","G":357,"v":0.0345},{"c":"p4","m":"F","G":362,"v":0.0365},{"c":"p4","m":"F","G":367.7,"v":0.0374},{"c":"p4","m":"F","G":373,"v":0.0365},{"c":"p4","m":"F","G":379,"v":0.034},{"c":"p4","m":"F","G":385,"v":0.03},{"c":"p4","m":"F","G":393,"v":0.024},{"c":"p4","m":"F","G":402.6,"v":0.0174},{"c":"p4","m":"F","G":415,"v":0.0135},{"c":"p4","m":"F","G":437.5,"v":0.01},{"c":"p4","m":"F","G":465,"v":0.0075},{"c":"p4","m":"F","G":490,"v":0.0062},{"c":"p4","m":"F","G":530,"v":0.005},{"c":"p4","m":"F","G":580,"v":0.005},{"c":"p4","m":"F","G":610,"v":0.0058},{"c":"p4","m":"F","G":628,"v":0.006},{"c":"p4","m":"F","G":645,"v":0.0052},{"c":"p4","m":"F","G":665,"v":0.003},{"c":"p4","m":"F","G":690,"v":0.0015},{"c":"p4","m":"F","G":720,"v":0.0012},{"c":"p4","m":"F","G":800,"v":0.002},{"c":"p4","m":"F","G":900,"v":0.0035},{"c":"p4","m":"F","G":1000,"v":0.005},
{"c":"p1","m":"A","G":10,"v":0},{"c":"p1","m":"A","G":200,"v":0.0003},{"c":"p1","m":"A","G":250,"v":0.001},{"c":"p1","m":"A","G":277,"v":0.003},{"c":"p1","m":"A","G":293,"v":0.006},{"c":"p1","m":"A","G":310,"v":0.015},{"c":"p1","m":"A","G":324,"v":0.03},{"c":"p1","m":"A","G":332,"v":0.044},{"c":"p1","m":"A","G":338,"v":0.063},{"c":"p1","m":"A","G":343,"v":0.087},{"c":"p1","m":"A","G":348,"v":0.12},{"c":"p1","m":"A","G":353,"v":0.153},{"c":"p1","m":"A","G":358,"v":0.18},{"c":"p1","m":"A","G":364,"v":0.2},{"c":"p1","m":"A","G":369.5,"v":0.2068},{"c":"p1","m":"A","G":376,"v":0.2},{"c":"p1","m":"A","G":384,"v":0.181},{"c":"p1","m":"A","G":394,"v":0.15},{"c":"p1","m":"A","G":408,"v":0.115},{"c":"p1","m":"A","G":426,"v":0.086},{"c":"p1","m":"A","G":443,"v":0.067},{"c":"p1","m":"A","G":460,"v":0.053},{"c":"p1","m":"A","G":485,"v":0.04},{"c":"p1","m":"A","G":512,"v":0.0335},{"c":"p1","m":"A","G":540,"v":0.031},{"c":"p1","m":"A","G":575,"v":0.032},{"c":"p1","m":"A","G":602,"v":0.037},{"c":"p1","m":"A","G":617,"v":0.041},{"c":"p1","m":"A","G":628,"v":0.043},{"c":"p1","m":"A","G":637,"v":0.042},{"c":"p1","m":"A","G":645,"v":0.039},{"c":"p1","m":"A","G":656,"v":0.031},{"c":"p1","m":"A","G":666,"v":0.023},{"c":"p1","m":"A","G":677,"v":0.015},{"c":"p1","m":"A","G":687,"v":0.009},{"c":"p1","m":"A","G":708,"v":0.004},{"c":"p1","m":"A","G":730,"v":0.0035},{"c":"p1","m":"A","G":800,"v":0.003},{"c":"p1","m":"A","G":900,"v":0.004},{"c":"p1","m":"A","G":1000,"v":0.005},
{"c":"p2","m":"A","G":10,"v":0},{"c":"p2","m":"A","G":250,"v":0.0005},{"c":"p2","m":"A","G":300,"v":0.002},{"c":"p2","m":"A","G":330,"v":0.005},{"c":"p2","m":"A","G":350,"v":0.01},{"c":"p2","m":"A","G":362,"v":0.015},{"c":"p2","m":"A","G":374,"v":0.0172},{"c":"p2","m":"A","G":386,"v":0.016},{"c":"p2","m":"A","G":400,"v":0.0134},{"c":"p2","m":"A","G":420,"v":0.0118},{"c":"p2","m":"A","G":450,"v":0.0126},{"c":"p2","m":"A","G":480,"v":0.0148},{"c":"p2","m":"A","G":504,"v":0.0178},{"c":"p2","m":"A","G":520,"v":0.0227},{"c":"p2","m":"A","G":535,"v":0.0296},{"c":"p2","m":"A","G":556,"v":0.049},{"c":"p2","m":"A","G":573,"v":0.07},{"c":"p2","m":"A","G":584,"v":0.095},{"c":"p2","m":"A","G":595,"v":0.123},{"c":"p2","m":"A","G":605,"v":0.163},{"c":"p2","m":"A","G":612,"v":0.198},{"c":"p2","m":"A","G":617,"v":0.23},{"c":"p2","m":"A","G":623,"v":0.273},{"c":"p2","m":"A","G":629,"v":0.328},{"c":"p2","m":"A","G":635,"v":0.379},{"c":"p2","m":"A","G":641,"v":0.425},{"c":"p2","m":"A","G":646,"v":0.448},{"c":"p2","m":"A","G":650.5,"v":0.455},{"c":"p2","m":"A","G":655,"v":0.45},{"c":"p2","m":"A","G":661,"v":0.427},{"c":"p2","m":"A","G":668,"v":0.377},{"c":"p2","m":"A","G":675,"v":0.312},{"c":"p2","m":"A","G":681,"v":0.267},{"c":"p2","m":"A","G":686,"v":0.234},{"c":"p2","m":"A","G":694,"v":0.187},{"c":"p2","m":"A","G":702,"v":0.149},{"c":"p2","m":"A","G":712,"v":0.121},{"c":"p2","m":"A","G":722,"v":0.099},{"c":"p2","m":"A","G":735,"v":0.077},{"c":"p2","m":"A","G":750,"v":0.06},{"c":"p2","m":"A","G":775,"v":0.045},{"c":"p2","m":"A","G":800,"v":0.036},{"c":"p2","m":"A","G":850,"v":0.027},{"c":"p2","m":"A","G":900,"v":0.021},{"c":"p2","m":"A","G":950,"v":0.017},{"c":"p2","m":"A","G":1000,"v":0.0137},
{"c":"p3","m":"A","G":10,"v":0},{"c":"p3","m":"A","G":300,"v":0.0005},{"c":"p3","m":"A","G":400,"v":0.002},{"c":"p3","m":"A","G":450,"v":0.004},{"c":"p3","m":"A","G":500,"v":0.007},{"c":"p3","m":"A","G":540,"v":0.012},{"c":"p3","m":"A","G":572,"v":0.02},{"c":"p3","m":"A","G":592,"v":0.03},{"c":"p3","m":"A","G":603,"v":0.04},{"c":"p3","m":"A","G":612,"v":0.055},{"c":"p3","m":"A","G":621,"v":0.074},{"c":"p3","m":"A","G":630,"v":0.093},{"c":"p3","m":"A","G":638,"v":0.11},{"c":"p3","m":"A","G":646,"v":0.121},{"c":"p3","m":"A","G":654,"v":0.1258},{"c":"p3","m":"A","G":660,"v":0.123},{"c":"p3","m":"A","G":666,"v":0.117},{"c":"p3","m":"A","G":673,"v":0.104},{"c":"p3","m":"A","G":680,"v":0.091},{"c":"p3","m":"A","G":688,"v":0.077},{"c":"p3","m":"A","G":697,"v":0.063},{"c":"p3","m":"A","G":706,"v":0.052},{"c":"p3","m":"A","G":715,"v":0.043},{"c":"p3","m":"A","G":732,"v":0.033},{"c":"p3","m":"A","G":750,"v":0.0265},{"c":"p3","m":"A","G":785,"v":0.0195},{"c":"p3","m":"A","G":852,"v":0.0135},{"c":"p3","m":"A","G":920,"v":0.011},{"c":"p3","m":"A","G":1000,"v":0.0087},
{"c":"p4","m":"A","G":10,"v":0},{"c":"p4","m":"A","G":250,"v":0.0008},{"c":"p4","m":"A","G":282,"v":0.002},{"c":"p4","m":"A","G":300,"v":0.0037},{"c":"p4","m":"A","G":317,"v":0.0075},{"c":"p4","m":"A","G":327,"v":0.011},{"c":"p4","m":"A","G":335,"v":0.015},{"c":"p4","m":"A","G":344,"v":0.022},{"c":"p4","m":"A","G":352,"v":0.029},{"c":"p4","m":"A","G":359,"v":0.0335},{"c":"p4","m":"A","G":364,"v":0.0352},{"c":"p4","m":"A","G":369.5,"v":0.036},{"c":"p4","m":"A","G":375,"v":0.0352},{"c":"p4","m":"A","G":381,"v":0.033},{"c":"p4","m":"A","G":387,"v":0.029},{"c":"p4","m":"A","G":395,"v":0.0232},{"c":"p4","m":"A","G":404,"v":0.017},{"c":"p4","m":"A","G":417,"v":0.0132},{"c":"p4","m":"A","G":439,"v":0.0098},{"c":"p4","m":"A","G":467,"v":0.0074},{"c":"p4","m":"A","G":492,"v":0.0061},{"c":"p4","m":"A","G":530,"v":0.005},{"c":"p4","m":"A","G":580,"v":0.005},{"c":"p4","m":"A","G":610,"v":0.0056},{"c":"p4","m":"A","G":628,"v":0.0058},{"c":"p4","m":"A","G":645,"v":0.005},{"c":"p4","m":"A","G":665,"v":0.003},{"c":"p4","m":"A","G":690,"v":0.0015},{"c":"p4","m":"A","G":720,"v":0.0012},{"c":"p4","m":"A","G":800,"v":0.002},{"c":"p4","m":"A","G":900,"v":0.0035},{"c":"p4","m":"A","G":1000,"v":0.005},
{"c":"p1","m":"B","G":10,"v":0},{"c":"p1","m":"B","G":180,"v":0.0004},{"c":"p1","m":"B","G":230,"v":0.0012},{"c":"p1","m":"B","G":256,"v":0.003},{"c":"p1","m":"B","G":272,"v":0.006},{"c":"p1","m":"B","G":289,"v":0.015},{"c":"p1","m":"B","G":303,"v":0.03},{"c":"p1","m":"B","G":311,"v":0.045},{"c":"p1","m":"B","G":317,"v":0.065},{"c":"p1","m":"B","G":322,"v":0.09},{"c":"p1","m":"B","G":327,"v":0.125},{"c":"p1","m":"B","G":332,"v":0.16},{"c":"p1","m":"B","G":337,"v":0.19},{"c":"p1","m":"B","G":343,"v":0.21},{"c":"p1","m":"B","G":348.6,"v":0.218},{"c":"p1","m":"B","G":353,"v":0.207},{"c":"p1","m":"B","G":357,"v":0.189},{"c":"p1","m":"B","G":362,"v":0.165},{"c":"p1","m":"B","G":368,"v":0.14},{"c":"p1","m":"B","G":378,"v":0.107},{"c":"p1","m":"B","G":396,"v":0.077},{"c":"p1","m":"B","G":424,"v":0.052},{"c":"p1","m":"B","G":458,"v":0.035},{"c":"p1","m":"B","G":490,"v":0.027},{"c":"p1","m":"B","G":511,"v":0.025},{"c":"p1","m":"B","G":540,"v":0.0225},{"c":"p1","m":"B","G":560,"v":0.025},{"c":"p1","m":"B","G":574,"v":0.03},{"c":"p1","m":"B","G":591,"v":0.035},{"c":"p1","m":"B","G":608,"v":0.0374},{"c":"p1","m":"B","G":617,"v":0.034},{"c":"p1","m":"B","G":626,"v":0.0286},{"c":"p1","m":"B","G":638,"v":0.02},{"c":"p1","m":"B","G":650,"v":0.0125},{"c":"p1","m":"B","G":671,"v":0.0035},{"c":"p1","m":"B","G":700,"v":0.002},{"c":"p1","m":"B","G":800,"v":0.003},{"c":"p1","m":"B","G":900,"v":0.004},{"c":"p1","m":"B","G":1000,"v":0.005},
{"c":"p2","m":"B","G":10,"v":0},{"c":"p2","m":"B","G":230,"v":0.0005},{"c":"p2","m":"B","G":280,"v":0.002},{"c":"p2","m":"B","G":310,"v":0.005},{"c":"p2","m":"B","G":330,"v":0.01},{"c":"p2","m":"B","G":342,"v":0.015},{"c":"p2","m":"B","G":352,"v":0.017},{"c":"p2","m":"B","G":365,"v":0.0155},{"c":"p2","m":"B","G":380,"v":0.012},{"c":"p2","m":"B","G":400,"v":0.0105},{"c":"p2","m":"B","G":430,"v":0.011},{"c":"p2","m":"B","G":460,"v":0.013},{"c":"p2","m":"B","G":490,"v":0.017},{"c":"p2","m":"B","G":515,"v":0.024},{"c":"p2","m":"B","G":535,"v":0.035},{"c":"p2","m":"B","G":550,"v":0.048},{"c":"p2","m":"B","G":563,"v":0.065},{"c":"p2","m":"B","G":575,"v":0.09},{"c":"p2","m":"B","G":586,"v":0.12},{"c":"p2","m":"B","G":594,"v":0.155},{"c":"p2","m":"B","G":600,"v":0.19},{"c":"p2","m":"B","G":606,"v":0.24},{"c":"p2","m":"B","G":612,"v":0.3},{"c":"p2","m":"B","G":618,"v":0.36},{"c":"p2","m":"B","G":623,"v":0.4},{"c":"p2","m":"B","G":627,"v":0.4185},{"c":"p2","m":"B","G":632,"v":0.408},{"c":"p2","m":"B","G":637,"v":0.37},{"c":"p2","m":"B","G":643,"v":0.31},{"c":"p2","m":"B","G":650,"v":0.25},{"c":"p2","m":"B","G":657,"v":0.21},{"c":"p2","m":"B","G":664,"v":0.185},{"c":"p2","m":"B","G":678,"v":0.152},{"c":"p2","m":"B","G":695,"v":0.12},{"c":"p2","m":"B","G":713,"v":0.095},{"c":"p2","m":"B","G":748,"v":0.07},{"c":"p2","m":"B","G":783,"v":0.055},{"c":"p2","m":"B","G":818,"v":0.045},{"c":"p2","m":"B","G":887,"v":0.032},{"c":"p2","m":"B","G":950,"v":0.026},{"c":"p2","m":"B","G":1000,"v":0.022},
{"c":"p3","m":"B","G":10,"v":0},{"c":"p3","m":"B","G":280,"v":0.0005},{"c":"p3","m":"B","G":380,"v":0.002},{"c":"p3","m":"B","G":430,"v":0.004},{"c":"p3","m":"B","G":480,"v":0.007},{"c":"p3","m":"B","G":520,"v":0.012},{"c":"p3","m":"B","G":550,"v":0.018},{"c":"p3","m":"B","G":570,"v":0.025},{"c":"p3","m":"B","G":584,"v":0.0324},{"c":"p3","m":"B","G":594,"v":0.048},{"c":"p3","m":"B","G":601.4,"v":0.0648},{"c":"p3","m":"B","G":608,"v":0.085},{"c":"p3","m":"B","G":615,"v":0.105},{"c":"p3","m":"B","G":622,"v":0.117},{"c":"p3","m":"B","G":630,"v":0.1233},{"c":"p3","m":"B","G":636,"v":0.118},{"c":"p3","m":"B","G":643,"v":0.107},{"c":"p3","m":"B","G":650,"v":0.096},{"c":"p3","m":"B","G":657,"v":0.0847},{"c":"p3","m":"B","G":667,"v":0.072},{"c":"p3","m":"B","G":678,"v":0.06},{"c":"p3","m":"B","G":695,"v":0.045},{"c":"p3","m":"B","G":713,"v":0.0324},{"c":"p3","m":"B","G":730,"v":0.025},{"c":"p3","m":"B","G":748,"v":0.02},{"c":"p3","m":"B","G":780,"v":0.016},{"c":"p3","m":"B","G":818,"v":0.0137},{"c":"p3","m":"B","G":900,"v":0.011},{"c":"p3","m":"B","G":1000,"v":0.009},
{"c":"p4","m":"B","G":10,"v":0},{"c":"p4","m":"B","G":230,"v":0.0008},{"c":"p4","m":"B","G":270,"v":0.002},{"c":"p4","m":"B","G":290,"v":0.0037},{"c":"p4","m":"B","G":301.5,"v":0.005},{"c":"p4","m":"B","G":315,"v":0.009},{"c":"p4","m":"B","G":322.5,"v":0.0125},{"c":"p4","m":"B","G":333,"v":0.0224},{"c":"p4","m":"B","G":340,"v":0.031},{"c":"p4","m":"B","G":346.8,"v":0.0374},{"c":"p4","m":"B","G":352,"v":0.036},{"c":"p4","m":"B","G":357,"v":0.0324},{"c":"p4","m":"B","G":362,"v":0.027},{"c":"p4","m":"B","G":367.7,"v":0.0224},{"c":"p4","m":"B","G":378,"v":0.016},{"c":"p4","m":"B","G":388.6,"v":0.0125},{"c":"p4","m":"B","G":405,"v":0.009},{"c":"p4","m":"B","G":423.6,"v":0.0062},{"c":"p4","m":"B","G":460,"v":0.0045},{"c":"p4","m":"B","G":520,"v":0.004},{"c":"p4","m":"B","G":580,"v":0.0045},{"c":"p4","m":"B","G":610,"v":0.0045},{"c":"p4","m":"B","G":630,"v":0.003},{"c":"p4","m":"B","G":650,"v":0.0015},{"c":"p4","m":"B","G":700,"v":0.001},{"c":"p4","m":"B","G":800,"v":0.002},{"c":"p4","m":"B","G":900,"v":0.0035},{"c":"p4","m":"B","G":1000,"v":0.0045}
],
"labT":[
{"k":"m","G":68.7,"v":2.648,"t":"|T|"},{"k":"p","G":108,"v":2.77,"t":"2"},{"k":"s","G":120.1,"v":2.555,"t":"+1,0,0"},
{"k":"m","G":394.7,"v":1.961,"t":"|T|"},{"k":"p","G":432.5,"v":2.077,"t":"2"},{"k":"s","G":443.1,"v":1.879,"t":"-1,4,2"},
{"k":"m","G":676.5,"v":1.961,"t":"|T|"},{"k":"p","G":714.2,"v":2.077,"t":"2"},{"k":"s","G":734.1,"v":1.879,"t":"0,4,1"},
{"k":"m","G":858.4,"v":1.394,"t":"|T|"},{"k":"p","G":895.6,"v":1.5125,"t":"2"},{"k":"s","G":907.6,"v":1.309,"t":"-1,2,2"},
{"k":"m","G":176.5,"v":1.126,"t":"|T|"},{"k":"p","G":215,"v":1.258,"t":"2"},{"k":"s","G":232.7,"v":1.045,"t":"0,2,1"}
],
"labB":[
{"k":"m","G":294.1,"v":0.2367,"t":"|T|"},{"k":"p","G":330.5,"v":0.2504,"t":"2"},{"k":"s","G":346.8,"v":0.2257,"t":"0,2,1→−1,4,2"},
{"k":"m","G":66.1,"v":0.1582,"t":"|T|"},{"k":"p","G":106.6,"v":0.1719,"t":"2"},{"k":"s","G":118.4,"v":0.1465,"t":"-1,4,2→−1,4,2"},
{"k":"m","G":667.6,"v":0.4235,"t":"|T|"},{"k":"p","G":706.4,"v":0.4372,"t":"2"},{"k":"s","G":721.7,"v":0.4123,"t":"0,4,1→−1,4,2"},
{"k":"m","G":795,"v":0.147,"t":"|T|"},{"k":"p","G":833.7,"v":0.1594,"t":"2"},{"k":"s","G":849,"v":0.1358,"t":"0,4,1→ 0,2,1"}
],
"arrT":[{"a":"a0","G1":261.8,"v1":0.996,"G2":349.4,"v2":0.458}],
"arrB":[{"a":"a1","G1":186.4,"v1":0.1445,"G2":366,"v2":0.0386},{"a":"a2","G1":831.6,"v1":0.1345,"G2":670.5,"v2":0.1063}]
},
"spacing":97.5,
"bounds":"flush",
"resolve":{"scale":{"color":"independent","strokeDash":"independent"},"legend":{"color":"independent","strokeDash":"independent"}},
"vconcat":[
{
"width":981.4,"height":686.7,
"resolve":{"axis":{"x":"independent","y":"independent"}},
"layer":[
{"data":{"name":"top"},
"mark":{"type":"line","strokeWidth":1.5,"interpolate":"monotone"},
"encoding":{
"x":{"field":"G","type":"quantitative","scale":{"domain":[0,1000]},"axis":{"orient":"bottom","values":[0,100,200,300,400,500,600,700,800,900,1000],"format":"d","labelExpr":"datum.value % 200 === 0 ? datum.label : ''","title":"Magnetic Field (G)","labelPadding":21,"titlePadding":2}},
"y":{"field":"v","type":"quantitative","scale":{"domain":[0,4]},"axis":{"orient":"left","values":[0,0.5,1,1.5,2,2.5,3,3.5,4],"format":"d","labelExpr":"datum.value % 1 === 0 ? datum.label : ''","title":"|T|²","titleFontSize":34,"labelPadding":27,"titlePadding":1}},
"color":{"field":"m","type":"nominal","scale":{"domain":["F","A","B"],"range":["#000000","#ff0000","#0000ff"]},
"legend":{"orient":"none","legendX":451,"legendY":49,"title":null,"labelExpr":"datum.value === 'F' ? 'Full coupled-channel' : datum.value === 'A' ? 'MQDT (interpolated 1000 G)' : 'MQDT (interpolated 5000 G)'","symbolType":"stroke","symbolSize":1600,"symbolStrokeWidth":1.5,"labelFontSize":34.7,"labelFont":"Liberation Serif","labelColor":"black","labelLimit":1000,"labelOffset":25,"rowPadding":3.5,"padding":6,"strokeColor":"black","fillColor":"white"}},
"strokeDash":{"field":"m","type":"nominal","scale":{"domain":["F","A","B"],"range":[[1,0],[6,4],[7,3,1.5,3]]},
"legend":{"orient":"none","legendX":451,"legendY":49,"title":null,"labelExpr":"datum.value === 'F' ? 'Full coupled-channel' : datum.value === 'A' ? 'MQDT (interpolated 1000 G)' : 'MQDT (interpolated 5000 G)'","symbolType":"stroke","symbolSize":1600,"symbolStrokeWidth":1.5,"labelFontSize":34.7,"labelFont":"Liberation Serif","labelColor":"black","labelLimit":1000,"labelOffset":25,"rowPadding":3.5,"padding":6,"strokeColor":"black","fillColor":"white"}},
"detail":{"field":"c"}
}},
{"data":{"name":"arrT"},
"mark":{"type":"rule","color":"black","strokeWidth":1.3},
"encoding":{
"x":{"field":"G1","type":"quantitative","axis":{"orient":"top","values":[0,100,200,300,400,500,600,700,800,900,1000],"labels":false,"title":null}},
"y":{"field":"v1","type":"quantitative","axis":{"orient":"right","values":[0,0.5,1,1.5,2,2.5,3,3.5,4],"labels":false,"title":null}},
"x2":{"field":"G2"},"y2":{"field":"v2"}}},
{"data":{"name":"arrT"},
"mark":{"type":"point","shape":"M-1,-0.55L0,0L-1,0.55","filled":false,"color":"black","strokeWidth":1.3,"size":420,"angle":47,"opacity":1},
"encoding":{"x":{"field":"G2","type":"quantitative","axis":null},"y":{"field":"v2","type":"quantitative","axis":null}}},
{"data":{"name":"labT"},"transform":[{"filter":"datum.k === 'm'"}],
"mark":{"type":"text","align":"left","baseline":"alphabetic","fontSize":36,"font":"Liberation Serif","color":"black"},
"encoding":{"x":{"field":"G","type":"quantitative","axis":null},"y":{"field":"v","type":"quantitative","axis":null},"text":{"field":"t"}}},
{"data":{"name":"labT"},"transform":[{"filter":"datum.k !== 'm'"}],
"mark":{"type":"text","align":"left","baseline":"alphabetic","fontSize":25,"font":"Liberation Serif","color":"black"},
"encoding":{"x":{"field":"G","type":"quantitative","axis":null},"y":{"field":"v","type":"quantitative","axis":null},"text":{"field":"t"}}}
]
},
{
"width":980,"height":669,
"resolve":{"axis":{"x":"independent","y":"independent"}},
"layer":[
{"data":{"name":"bot"},
"mark":{"type":"line","strokeWidth":1.5,"interpolate":"monotone"},
"encoding":{
"x":{"field":"G","type":"quantitative","scale":{"domain":[0,1000],"range":[24.2,980]},"axis":{"orient":"bottom","values":[0,100,200,300,400,500,600,700,800,900,1000],"format":"d","labelExpr":"datum.value % 200 === 0 ? datum.label : ''","title":"Magnetic Field (G)","labelPadding":20,"titlePadding":3}},
"y":{"field":"v","type":"quantitative","scale":{"domain":[0,0.5]},"axis":{"orient":"left","offset":-24.2,"values":[0,0.05,0.1,0.15,0.2,0.25,0.3,0.35,0.4,0.45,0.5],"labelExpr":"datum.value === 0 ? '0' : (round(datum.value*100) % 10 === 0 ? format(datum.value, '.1f') : '')","title":"|T|²","titleFontSize":34,"labelPadding":27,"titlePadding":6}},
"color":{"field":"m","type":"nominal","scale":{"domain":["F","A","B"],"range":["#000000","#ff0000","#0000ff"]},
"legend":{"orient":"none","legendX":72.4,"legendY":48,"title":null,"labelExpr":"datum.value === 'F' ? 'Full coupled -channel' : datum.value === 'A' ? 'MQDT (interpolated 1000 G)' : 'MQDT (interpolated 5000 G)'","symbolType":"stroke","symbolSize":1521,"symbolStrokeWidth":1.5,"labelFontSize":34.7,"labelFont":"Liberation Serif","labelColor":"black","labelLimit":1000,"labelOffset":24,"rowPadding":3.5,"padding":6,"strokeColor":"black","fillColor":"white",
"encode":{"symbols":{"update":{"stroke":{"signal":"datum.value === 'B' ? '#0000ff' : '#ff0000'"},"strokeDash":{"signal":"datum.value === 'B' ? [7,3,1.5,3] : [5,4]"}}}}}},
"strokeDash":{"field":"m","type":"nominal","scale":{"domain":["F","A","B"],"range":[[1,0],[6,4],[7,3,1.5,3]]},
"legend":{"orient":"none","legendX":72.4,"legendY":48,"title":null,"labelExpr":"datum.value === 'F' ? 'Full coupled -channel' : datum.value === 'A' ? 'MQDT (interpolated 1000 G)' : 'MQDT (interpolated 5000 G)'","symbolType":"stroke","symbolSize":1521,"symbolStrokeWidth":1.5,"labelFontSize":34.7,"labelFont":"Liberation Serif","labelColor":"black","labelLimit":1000,"labelOffset":24,"rowPadding":3.5,"padding":6,"strokeColor":"black","fillColor":"white",
"encode":{"symbols":{"update":{"stroke":{"signal":"datum.value === 'B' ? '#0000ff' : '#ff0000'"},"strokeDash":{"signal":"datum.value === 'B' ? [7,3,1.5,3] : [5,4]"}}}}}},
"detail":{"field":"c"}
}},
{"data":{"name":"arrB"},
"mark":{"type":"rule","color":"black","strokeWidth":1.3},
"encoding":{
"x":{"field":"G1","type":"quantitative","axis":{"orient":"top","values":[0,100,200,300,400,500,600,700,800,900,1000],"labels":false,"title":null}},
"y":{"field":"v1","type":"quantitative","axis":{"orient":"right","values":[0,0.05,0.1,0.15,0.2,0.25,0.3,0.35,0.4,0.45,0.5],"labels":false,"title":null}},
"x2":{"field":"G2"},"y2":{"field":"v2"}}},
{"data":{"name":"arrB"},"transform":[{"filter":"datum.a === 'a1'"}],
"mark":{"type":"point","shape":"M-1,-0.55L0,0L-1,0.55","filled":false,"color":"black","strokeWidth":1.3,"size":420,"angle":39.5,"opacity":1},
"encoding":{"x":{"field":"G2","type":"quantitative","axis":null},"y":{"field":"v2","type":"quantitative","axis":null}}},
{"data":{"name":"arrB"},"transform":[{"filter":"datum.a === 'a2'"}],
"mark":{"type":"point","shape":"M-1,-0.55L0,0L-1,0.55","filled":false,"color":"black","strokeWidth":1.3,"size":420,"angle":166.2,"opacity":1},
"encoding":{"x":{"field":"G2","type":"quantitative","axis":null},"y":{"field":"v2","type":"quantitative","axis":null}}},
{"data":{"name":"labB"},"transform":[{"filter":"datum.k === 'm'"}],
"mark":{"type":"text","align":"left","baseline":"alphabetic","fontSize":36,"font":"Liberation Serif","color":"black"},
"encoding":{"x":{"field":"G","type":"quantitative","axis":null},"y":{"field":"v","type":"quantitative","axis":null},"text":{"field":"t"}}},
{"data":{"name":"labB"},"transform":[{"filter":"datum.k !== 'm'"}],
"mark":{"type":"text","align":"left","baseline":"alphabetic","fontSize":25,"font":"Liberation Serif","color":"black"},
"encoding":{"x":{"field":"G","type":"quantitative","axis":null},"y":{"field":"v","type":"quantitative","axis":null},"text":{"field":"t"}}}
]
}
]
}
